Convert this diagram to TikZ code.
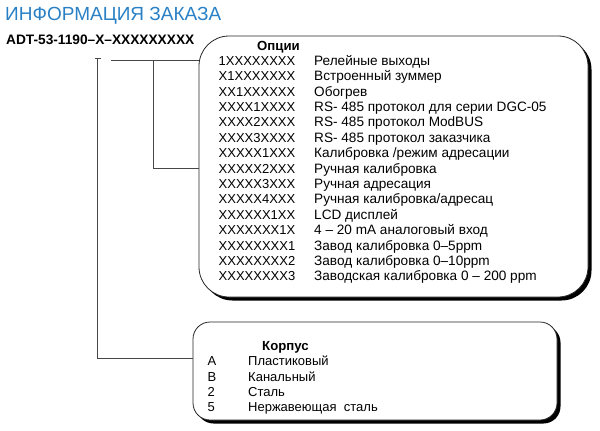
\documentclass[tikz,border=0pt]{standalone}
\usepackage{fontspec}
\setmainfont{Liberation Sans}
\usetikzlibrary{shadows}
\definecolor{titleblue}{RGB}{41,128,197}
\definecolor{linegray}{RGB}{70,70,70}
\tikzset{
  txt/.style={anchor=base west,inner sep=0pt,font=\fontsize{13}{15}\selectfont},
  dtxt/.style={anchor=base west,inner sep=0pt,font=\fontsize{13.6}{15}\selectfont},
  hdr/.style={anchor=base west,inner sep=0pt,font=\fontsize{13.2}{15}\selectfont\bfseries},
  conn/.style={draw=linegray,line width=0.8pt},
  optbox/.style={draw=black!85,line width=0.8pt,fill=white,rounded corners=30pt,inner sep=0pt,
    drop shadow={shadow xshift=3.5pt,shadow yshift=-3.5pt,fill=black,opacity=1}},
  korbox/.style={draw=black!85,line width=0.8pt,fill=white,rounded corners=17pt,inner sep=0pt,
    drop shadow={shadow xshift=3.5pt,shadow yshift=-3.5pt,fill=black,opacity=1}}
}
\begin{document}
\begin{tikzpicture}[x=1pt,y=-1pt]
\useasboundingbox (0,0) rectangle (600,431);
% title and part number
\node[anchor=base west,inner sep=0pt,text=titleblue,font=\fontsize{19}{21}\selectfont] (title) at (5,20) {ИНФОРМАЦИЯ ЗАКАЗА};
\node[anchor=base west,inner sep=0pt,font=\fontsize{13.7}{15}\selectfont\bfseries] (pn) at (6,44.5) {ADT-53-1190–X–XXXXXXXXX};
% boxes
\node[optbox,minimum width=389pt,minimum height=261pt] (opts) at (393.5,166.5) {};
\node[korbox,minimum width=364pt,minimum height=98pt] (kor) at (375,371) {};
% connectors
\coordinate (ta) at (94.5,58.5);
\coordinate (tb) at (101,58.5);
\coordinate (va) at (97,58.5);
\coordinate (vb) at (97,358.5);
\coordinate (ha) at (111,60);
\coordinate (hb) at (153,60);
\coordinate (hc) at (153,168);
\draw[conn] (ta) -- (tb);
\draw[conn] (va) -- (vb) -- (vb -| kor.west);
\draw[conn] (ha) -- (ha -| opts.west);
\draw[conn] (hb) -- (hc) -- (hc -| opts.west);
% options text
\node[hdr] (oh) at (257,50) {Опции};
\foreach \c/\d [count=\i from 0] in {
  1XXXXXXXX/{Релейные выходы},
  X1XXXXXXX/{Встроенный зуммер},
  XX1XXXXXX/{Обогрев},
  XXXX1XXXX/{RS- 485 протокол для серии DGC-05},
  XXXX2XXXX/{RS- 485 протокол ModBUS},
  XXXX3XXXX/{RS- 485 протокол заказчика},
  XXXXX1XXX/{Калибровка /режим адресации},
  XXXXX2XXX/{Ручная калибровка},
  XXXXX3XXX/{Ручная адресация},
  XXXXX4XXX/{Ручная калибровка/адресац},
  XXXXXX1XX/{LCD дисплей},
  XXXXXXX1X/{4 – 20 mA аналоговый вход},
  XXXXXXXX1/{Завод калибровка 0–5ppm},
  XXXXXXXX2/{Завод калибровка 0–10ppm},
  XXXXXXXX3/{Заводская калибровка 0 – 200 ppm}}{
  \node[txt] (oc\i) at (218.5,{65.2+15.4*\i}) {\c};
  \node[dtxt] (od\i) at (314,{65.2+15.4*\i}) {\d};
}
% korpus text
\node[hdr] (kh) at (262,350.3) {Корпус};
\foreach \c/\d [count=\i from 0] in {A/{Пластиковый},B/{Канальный},2/{Сталь},5/{Нержавеющая\ \ сталь}}{
  \node[txt] (kc\i) at (207.5,{365.7+15.4*\i}) {\c};
  \node[txt] (kd\i) at (248,{365.7+15.4*\i}) {\d};
}
\end{tikzpicture}
\end{document}
